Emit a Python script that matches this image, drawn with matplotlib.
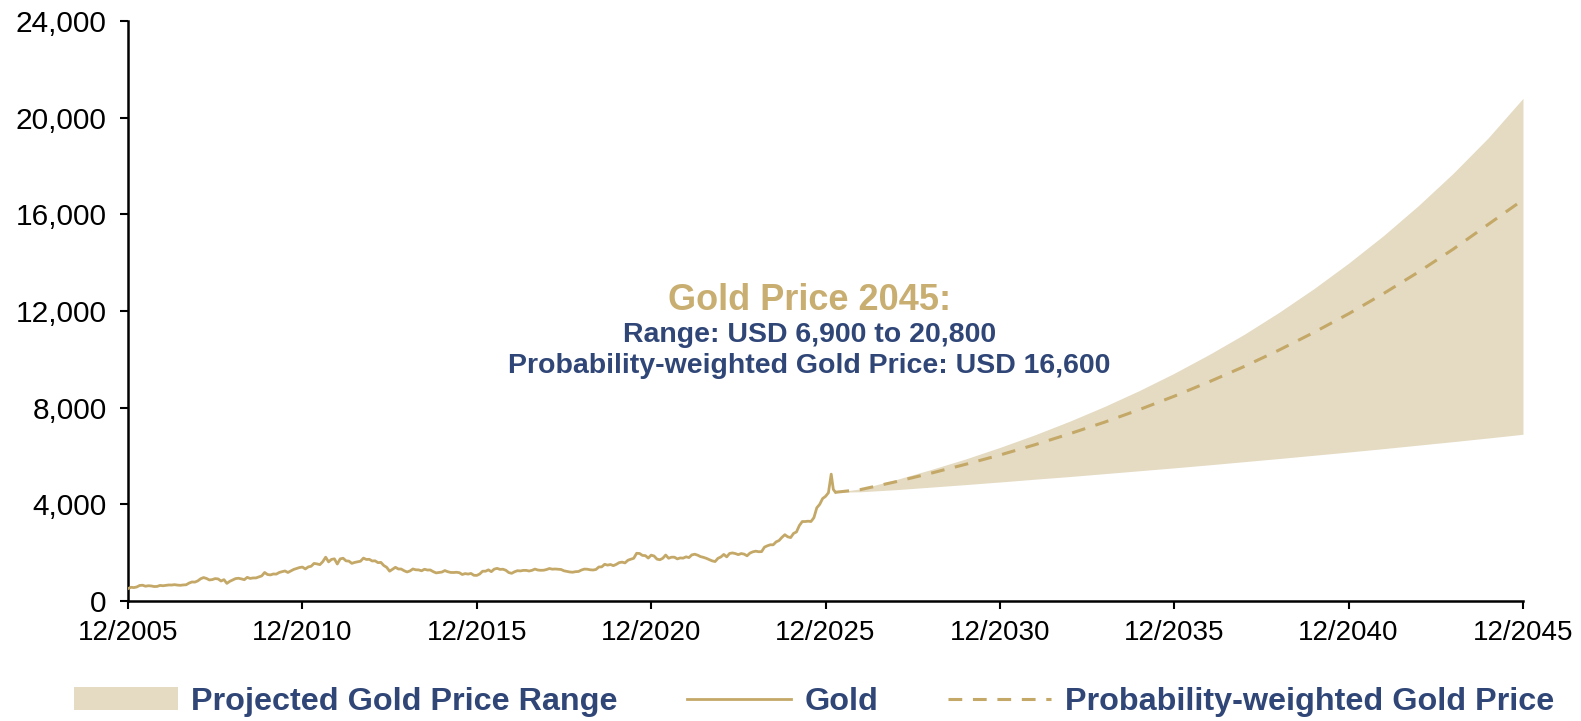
import matplotlib
matplotlib.use("Agg")
import matplotlib.pyplot as plt
import matplotlib.patches as mpatches
from matplotlib.lines import Line2D
from matplotlib.ticker import FuncFormatter
import numpy as np

plt.rcParams['font.family'] = ['Liberation Sans', 'DejaVu Sans']

# monthly gold price, Dec 2005 .. Dec 2025 (USD/oz)
gold_start = 2005 + 11/12
gold = [513,
        569, 556, 582, 644, 653, 613, 633, 623, 599, 604, 646, 632,
        650, 664, 662, 677, 659, 650, 665, 673, 743, 789, 783, 834,
        923, 971, 933, 871, 888, 929, 914, 828, 884, 730, 815, 870,
        928, 942, 916, 883, 980, 934, 955, 955, 996, 1040, 1181, 1096,
        1081, 1119, 1113, 1180, 1215, 1244, 1181, 1246, 1307, 1346, 1386, 1405,
        1327, 1411, 1439, 1556, 1536, 1505, 1628, 1813, 1620, 1722, 1746, 1531,
        1744, 1770, 1662, 1651, 1558, 1598, 1622, 1648, 1776, 1719, 1726, 1657,
        1664, 1588, 1598, 1469, 1394, 1234, 1314, 1395, 1326, 1323, 1253, 1202,
        1244, 1326, 1292, 1288, 1250, 1315, 1282, 1285, 1216, 1164, 1183, 1199,
        1260, 1214, 1183, 1180, 1190, 1172, 1098, 1135, 1115, 1142, 1065, 1060,
        1118, 1234, 1233, 1290, 1215, 1320, 1351, 1309, 1316, 1272, 1178, 1146,
        1211, 1255, 1245, 1268, 1268, 1242, 1269, 1322, 1283, 1271, 1275, 1303,
        1345, 1318, 1325, 1315, 1305, 1250, 1224, 1202, 1192, 1215, 1222, 1282,
        1321, 1316, 1293, 1283, 1305, 1409, 1414, 1520, 1485, 1511, 1463, 1517,
        1589, 1609, 1577, 1687, 1730, 1768, 1975, 1968, 1887, 1879, 1777, 1898,
        1863, 1734, 1708, 1769, 1903, 1770, 1814, 1814, 1743, 1783, 1774, 1829,
        1797, 1909, 1937, 1897, 1837, 1807, 1766, 1711, 1661, 1633, 1768, 1824,
        1928, 1827, 1969, 1990, 1962, 1919, 1965, 1940, 1871, 1984, 2036, 2063,
        2040, 2044, 2230, 2286, 2327, 2326, 2448, 2503, 2634, 2744, 2657, 2625,
        2798, 2858, 3124, 3289, 3289, 3303, 3290, 3448, 3858, 4000, 4240, 4330]
# early 2026 spike
tail_x = [2026.0, 2026.08, 2026.14, 2026.2]
tail_y = [4480, 5250, 4620, 4500]

# projection to 12/2045
proj_x = [2026.2] + [y + 11/12 for y in range(2026, 2046)]
proj_hi = [4500, 4640, 5015, 5430, 5870, 6355, 6875, 7440, 8050, 8710, 9425,
           10200, 11030, 11940, 12920, 13980, 15120, 16360, 17700, 19160, 20800]
proj_mid = [4500, 4610, 4930, 5280, 5650, 6040, 6465, 6920, 7400, 7920, 8475,
            9070, 9700, 10380, 11110, 11885, 12720, 13610, 14560, 15580, 16600]
proj_lo = [4500, 4520, 4605, 4710, 4815, 4925, 5040, 5150, 5270, 5390, 5510,
           5635, 5765, 5895, 6030, 6165, 6305, 6450, 6595, 6745, 6900]

tick_years = [2005, 2010, 2015, 2020, 2025, 2030, 2035, 2040, 2045]

gold_col = '#C4A867'
fill_col = '#E5DBC3'
blue = '#2F4677'

fig = plt.figure(figsize=(15.81, 7.21), dpi=100)
ax = fig.add_axes([0.081, 0.1664, 0.8823, 0.8045])

gx = gold_start + np.arange(len(gold)) / 12
ax.fill_between(proj_x, proj_lo, proj_hi, color=fill_col, lw=0, zorder=1)
ax.plot(list(gx) + tail_x, gold + tail_y, color=gold_col, lw=2.0, zorder=3)
ax.plot(proj_x, proj_mid, color=gold_col, lw=2.2, dashes=(4.5, 3.5), zorder=2)

ax.set_xlim(2005 + 11/12, 2045 + 11/12)
ax.set_ylim(0, 24000)
ax.set_xticks([y + 11/12 for y in tick_years])
ax.set_xticklabels([f'12/{y}' for y in tick_years])
ax.set_yticks(range(0, 24001, 4000))
ax.yaxis.set_major_formatter(FuncFormatter(lambda v, p: f'{int(v):,}'))

for s in ['top', 'right']:
    ax.spines[s].set_visible(False)
for s in ['left', 'bottom']:
    ax.spines[s].set_linewidth(1.8)
ax.tick_params(axis='y', labelsize=21.5, length=5.5, width=1.5, pad=10)
ax.tick_params(axis='x', labelsize=20, length=6, width=1.5, pad=8)

fig.text(0.512, 0.583, 'Gold Price 2045:', color='#C9AE72', fontsize=26,
         fontweight='bold', ha='center', va='center')
fig.text(0.512, 0.536, 'Range: USD 6,900 to 20,800', color=blue, fontsize=20.5,
         fontweight='bold', ha='center', va='center')
fig.text(0.512, 0.492, 'Probability-weighted Gold Price: USD 16,600', color=blue,
         fontsize=20.5, fontweight='bold', ha='center', va='center')

handles = [mpatches.Patch(color=fill_col, lw=0),
           Line2D([], [], color=gold_col, lw=2.0),
           Line2D([], [], color=gold_col, lw=2.2, dashes=(4.5, 3.5))]
labels = ['Projected Gold Price Range', 'Gold', 'Probability-weighted Gold Price']
leg = fig.legend(handles, labels, loc='center', bbox_to_anchor=(0.515, 0.026),
                 ncol=3, frameon=False, handlelength=3.2, handleheight=0.72,
                 handletextpad=0.42, columnspacing=2.15,
                 prop={'size': 23.3, 'weight': 'bold'})
for t in leg.get_texts():
    t.set_color(blue)

fig.savefig('out.png', dpi=100)
